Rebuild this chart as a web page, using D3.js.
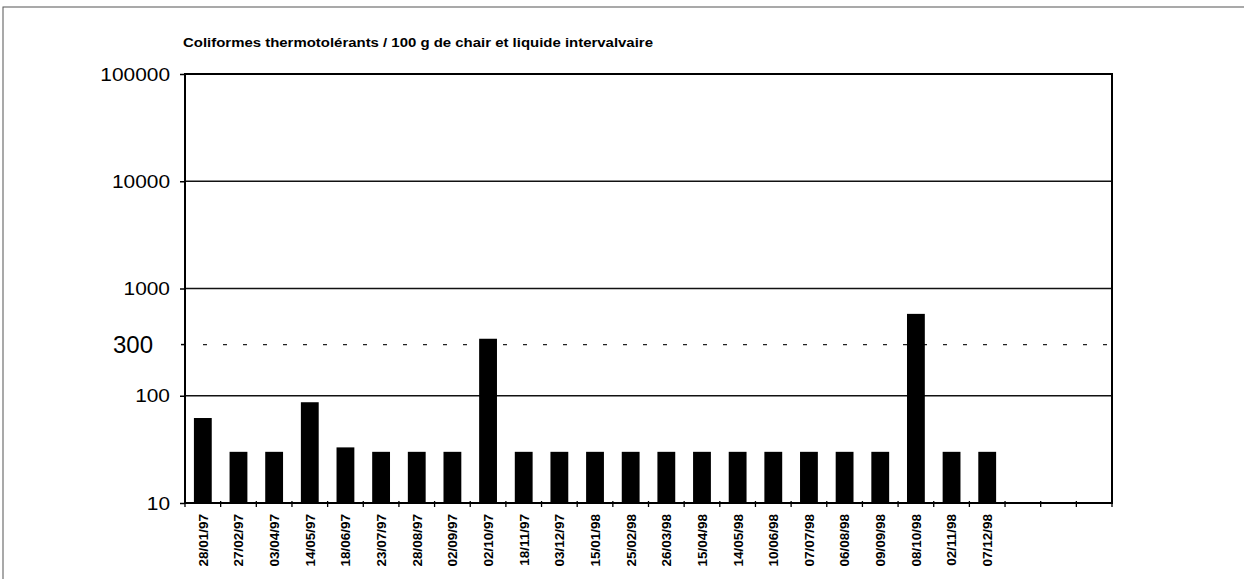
<!DOCTYPE html>
<html>
<head>
<meta charset="utf-8">
<script src="https://cdn.jsdelivr.net/npm/d3@7"></script>
<style>
  html, body { margin: 0; padding: 0; background: #fff; }
  svg { display: block; }
  text { font-family: "Liberation Sans", Arial, Helvetica, sans-serif; fill: #000; }
</style>
</head>
<body>
<svg id="chart" width="1244" height="579"></svg>
<script>
// Sampling dates (dd/mm/yy)
const dates = [
  "28/01/97", "27/02/97", "03/04/97", "14/05/97", "18/06/97", "23/07/97",
  "28/08/97", "02/09/97", "02/10/97", "18/11/97", "03/12/97", "15/01/98",
  "25/02/98", "26/03/98", "15/04/98", "14/05/98", "10/06/98", "07/07/98",
  "06/08/98", "09/09/98", "08/10/98", "02/11/98", "07/12/98"
];
// Thermotolerant coliforms per 100 g of flesh and intervalvular liquid
const coliforms = [
  62, 30, 30, 87, 33, 30, 30, 30, 340, 30, 30, 30,
  30, 30, 30, 30, 30, 30, 30, 30, 580, 30, 30
];
// Unused slots kept at the end of the category axis
const emptySlots = 3;
// Log-axis tick values and the threshold
const yTicks = [10, 100, 1000, 10000, 100000];
const gridValues = [100, 1000, 10000];
const threshold = 300;
const title = "Coliformes thermotolérants / 100 g de chair et liquide intervalvaire";

const svg = d3.select("#chart");
const plot = { left: 185, right: 1112, top: 74, bottom: 503 };

const slots = d3.range(dates.length + emptySlots);
const x = d3.scaleBand()
  .domain(slots)
  .range([plot.left, plot.right])
  .paddingInner(0.5)
  .paddingOuter(0.25);

const y = d3.scaleLog()
  .domain([10, 100000])
  .range([plot.bottom, plot.top]);

// Outer chart border
svg.append("rect")
  .attr("x", 3).attr("y", 7)
  .attr("width", 1260).attr("height", 600)
  .attr("fill", "none")
  .attr("stroke", "#555")
  .attr("stroke-width", 1);

// Title (wide bold face)
svg.append("text")
  .attr("transform", `translate(${plot.left - 2},47) scale(1.15,1)`)
  .attr("font-size", 13)
  .attr("font-weight", "bold")
  .text(title);

// Horizontal gridlines
svg.append("g")
  .selectAll("line")
  .data(gridValues)
  .join("line")
  .attr("x1", plot.left).attr("x2", plot.right)
  .attr("y1", d => y(d)).attr("y2", d => y(d))
  .attr("stroke", "#111")
  .attr("stroke-width", 1.3);

// Threshold line (dotted)
svg.append("line")
  .attr("x1", plot.left + 18).attr("x2", plot.right + 4)
  .attr("y1", y(threshold)).attr("y2", y(threshold))
  .attr("stroke", "#222")
  .attr("stroke-width", 1.3)
  .attr("stroke-dasharray", "4,16");

// Bars
svg.append("g")
  .selectAll("rect")
  .data(coliforms)
  .join("rect")
  .attr("x", (d, i) => x(i))
  .attr("y", d => y(d))
  .attr("width", x.bandwidth())
  .attr("height", d => y(10) - y(d))
  .attr("fill", "#000");

// Plot frame
svg.append("rect")
  .attr("x", plot.left).attr("y", plot.top)
  .attr("width", plot.right - plot.left)
  .attr("height", plot.bottom - plot.top)
  .attr("fill", "none")
  .attr("stroke", "#000")
  .attr("stroke-width", 2);

// Y axis: ticks and labels
const labelScaleX = 1.1;
const yAxis = d3.axisLeft(y)
  .tickValues(yTicks)
  .tickSize(5)
  .tickPadding(10)
  .tickFormat(d3.format("d"));
const yg = svg.append("g")
  .attr("transform", `translate(${plot.left},0)`)
  .call(yAxis);
yg.select(".domain").remove();
yg.selectAll(".tick line").attr("stroke", "#000").attr("stroke-width", 1.5);
yg.selectAll(".tick text")
  .attr("x", -15 / labelScaleX)
  .attr("transform", `scale(${labelScaleX},1)`)
  .attr("font-size", 19)
  .attr("font-family", "Liberation Sans, Arial, sans-serif")
  .attr("fill", "#000");

// Threshold label and tick
svg.append("line")
  .attr("x1", plot.left - 4).attr("x2", plot.left)
  .attr("y1", y(threshold)).attr("y2", y(threshold))
  .attr("stroke", "#000").attr("stroke-width", 1.5);
svg.append("text")
  .attr("x", 153)
  .attr("y", y(threshold))
  .attr("dy", "0.36em")
  .attr("text-anchor", "end")
  .attr("font-size", 24)
  .text(threshold);

// X axis ticks at category boundaries
const step = x.step();
const boundaries = d3.range(slots.length + 1).map(i => plot.left + i * step);
svg.append("g")
  .selectAll("line")
  .data(boundaries)
  .join("line")
  .attr("x1", d => d).attr("x2", d => d)
  .attr("y1", plot.bottom - 2).attr("y2", plot.bottom + 4)
  .attr("stroke", "#000")
  .attr("stroke-width", 1.3);

// X labels, rotated
svg.append("g")
  .selectAll("text")
  .data(dates)
  .join("text")
  .attr("transform", (d, i) => `translate(${x(i) + x.bandwidth() / 2},${plot.bottom + 11}) rotate(-90)`)
  .attr("text-anchor", "end")
  .attr("dy", "0.36em")
  .attr("font-size", 13.5)
  .attr("font-weight", "bold")
  .text(d => d);
</script>
</body>
</html>
